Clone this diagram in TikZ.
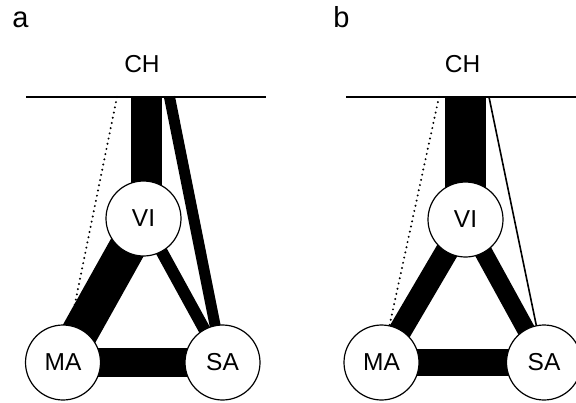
\documentclass[tikz,border=0pt]{standalone}
\usepackage{fontspec}
\setmainfont{Liberation Sans}
\usetikzlibrary{backgrounds}
\begin{document}
\begin{tikzpicture}[x=1pt,y=-1pt,
  area/.style={circle, draw, line width=1.2pt, fill=white, minimum size=75pt, inner sep=0pt, font=\fontsize{24.5}{28}\selectfont},
  lab/.style={anchor=base, font=\fontsize{24.5}{28}\selectfont},
  panel/.style={anchor=base, font=\fontsize{29}{32}\selectfont},
  band/.style={line width=#1, line cap=butt},
  dots/.style={line width=2.2pt, dash pattern=on 0pt off 5.3pt, line cap=round},
  rule/.style={line width=1.2pt}
]
\useasboundingbox (0,0) rectangle (576,402);

% ---------- panel a ----------
\node[panel] (pa) at (20.5,27) {a};
\node[lab] (cha) at (142,72) {CH};
\coordinate (la) at (26,97);
\coordinate (ra) at (266,97);
\coordinate (cva) at (146,97);
\coordinate (csa) at (169.5,97);
\coordinate (cma) at (117,97);
\node[area] (VIa) at (143.5,218.5) {VI};
\node[area] (MAa) at (63,362.5) {MA};
\node[area] (SAa) at (222.5,362.5) {SA};
\begin{scope}[on background layer]
  \draw[dots] (cma) -- (MAa);
  \draw[band=31pt] (cva) -- (cva |- VIa.center);
  \draw[band=11pt] (csa) -- (SAa.center);
  \draw[band=12pt] (VIa.center) -- (SAa.center);
  \draw[band=37pt] (VIa.center) -- (MAa.center);
  \draw[band=29pt] (MAa.center) -- (SAa.center);
\end{scope}
\draw[rule] (la) -- (ra);

% ---------- panel b ----------
\node[panel] (pb) at (341.5,27) {b};
\node[lab] (chb) at (462.5,72) {CH};
\coordinate (lb) at (346,97);
\coordinate (rb) at (576,97);
\coordinate (cvb) at (465,97);
\coordinate (csb) at (489,97);
\coordinate (cmb) at (439,97);
\node[area] (VIb) at (465.5,219.5) {VI};
\node[area] (MAb) at (381.5,362.5) {MA};
\node[area] (SAb) at (544,362.5) {SA};
\begin{scope}[on background layer]
  \draw[dots] (cmb) -- (MAb);
  \draw[band=41pt] (cvb) -- (cvb |- VIb.center);
  \draw[band=1.6pt] (csb) -- (SAb.center);
  \draw[band=18pt] (VIb.center) -- (SAb.center);
  \draw[band=23pt] (VIb.center) -- (MAb.center);
  \draw[band=27pt] (MAb.center) -- (SAb.center);
\end{scope}
\draw[rule] (lb) -- (rb);
\end{tikzpicture}
\end{document}
